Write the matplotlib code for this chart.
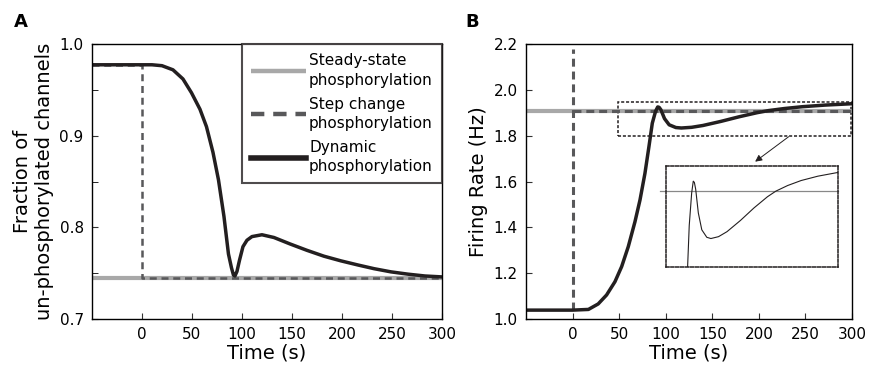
import matplotlib.pyplot as plt
from matplotlib.patches import Rectangle
from matplotlib.ticker import MultipleLocator

# ---- panel A data ----
t_a = [-50, 0, 10, 20, 31, 41, 49.5, 58, 64.5, 71, 76.5, 82, 86.5, 89.5,
       91.5, 93, 95, 97.5, 101, 105, 110, 120, 132, 148, 165, 182, 199, 216,
       232, 249, 266, 283, 300]
dyn_a = [0.9775, 0.9775, 0.9775, 0.9765, 0.972, 0.962, 0.947, 0.929, 0.910,
         0.882, 0.852, 0.812, 0.771, 0.756, 0.748, 0.747, 0.752, 0.764, 0.779,
         0.786, 0.790, 0.792, 0.789, 0.782, 0.775, 0.7686, 0.7635, 0.759,
         0.755, 0.7515, 0.749, 0.747, 0.746]
steady_a = 0.745
step_pre_a, step_post_a = 0.9775, 0.745

# ---- panel B data ----
t_b = [-50, 0, 17, 27.5, 36.5, 45.5, 52.7, 59.8, 67, 72.4, 77.7, 82, 85.6,
       89.1, 91.4, 93, 94.9, 98.7, 103.7, 110.9, 116.8, 127.8, 140, 159.4,
       178.8, 198.3, 210.4, 227.4, 246.8, 271, 300]
dyn_b = [1.039, 1.039, 1.042, 1.066, 1.105, 1.163, 1.229, 1.316, 1.425, 1.52,
         1.636, 1.753, 1.855, 1.907, 1.926, 1.924, 1.913, 1.875, 1.848, 1.836,
         1.834, 1.837, 1.845, 1.863, 1.883, 1.901, 1.910, 1.919, 1.927, 1.934,
         1.940]
steady_b = 1.91
step_pre_b, step_peak_b, step_post_b = 1.039, 2.18, 1.91

c_steady = '#a8a8a8'
c_step = '#58585a'
c_dyn = '#231f20'

plt.rcParams['font.family'] = 'DejaVu Sans'
fig = plt.figure(figsize=(8.7, 3.68), dpi=100)
axA = fig.add_axes([0.1057, 0.133, 0.4023, 0.747])
axB = fig.add_axes([0.6046, 0.133, 0.3747, 0.747])

for ax in (axA, axB):
    ax.tick_params(direction='in', labelsize=11, pad=6, length=4,
                   top=False, right=False, color='#333333')
    ax.tick_params(which='minor', direction='in', length=4, top=False, right=False)
    for s in ax.spines.values():
        s.set_linewidth(1.0)
    ax.set_xlim(-50, 300)
    ax.set_xticks([0, 50, 100, 150, 200, 250, 300])
    ax.set_xlabel('Time (s)', fontsize=14, labelpad=1)

# ---- panel A ----
axA.plot([-50, 300], [steady_a, steady_a], color=c_steady, lw=3,
         label='Steady-state\nphosphorylation', solid_capstyle='butt')
axA.plot([-50, 0, 0, 300], [step_pre_a, step_pre_a, step_post_a, step_post_a],
         color=c_step, lw=1.8, ls=(0, (2.8, 1.9)),
         label='Step change\nphosphorylation')
axA.plot(t_a, dyn_a, color=c_dyn, lw=2.5, label='Dynamic\nphosphorylation')
axA.set_ylim(0.7, 1.0)
axA.yaxis.set_major_locator(MultipleLocator(0.1))
axA.yaxis.set_minor_locator(MultipleLocator(0.05))
axA.set_ylabel('Fraction of\nun-phosphorylated channels', fontsize=14, labelpad=4)
leg = axA.legend(loc='upper right', fontsize=11, frameon=True, fancybox=False,
                 borderaxespad=0, handlelength=3.6, handletextpad=0.2,
                 labelspacing=0.6, borderpad=0.6)
for txt in leg.get_texts():
    txt.set_linespacing(1.35)
leg.get_frame().set_edgecolor('#231f20')
leg.get_frame().set_linewidth(1.5)
leg_lines = leg.get_lines()
leg_lines[0].set_linewidth(3.2)
leg_lines[1].set_linewidth(3.2)
leg_lines[1].set_linestyle((0, (3, 2)))
leg_lines[2].set_linewidth(4)

fig.text(0.016, 0.965, 'A', fontsize=13, fontweight='bold', va='top')
fig.text(0.535, 0.965, 'B', fontsize=13, fontweight='bold', va='top')

# ---- panel B ----
axB.plot([-50, 300], [steady_b, steady_b], color=c_steady, lw=3,
         solid_capstyle='butt')
axB.plot([0, 0], [step_pre_b, step_peak_b], color=c_step, lw=2.2,
         ls=(0, (2.6, 1.6)))
axB.plot([0, 300], [step_post_b, step_post_b], color=c_step, lw=2.2,
         ls=(0, (2.6, 1.6)))
axB.plot(t_b, dyn_b, color=c_dyn, lw=2.5)
axB.set_ylim(1.0, 2.2)
axB.yaxis.set_major_locator(MultipleLocator(0.2))
axB.set_ylabel('Firing Rate (Hz)', fontsize=14, labelpad=4)

box_x0, box_x1 = 48.4, 299
box_y0, box_y1 = 1.80, 1.949
axB.add_patch(Rectangle((box_x0, box_y0), box_x1 - box_x0, box_y1 - box_y0,
                        fill=False, ec='#231f20', lw=1.1, ls=(0, (2, 1.2))))
axB.annotate('', xy=(196, 1.687), xytext=(232, 1.796),
             arrowprops=dict(arrowstyle='-|>', lw=0.7, color='#231f20',
                             mutation_scale=10, shrinkA=0, shrinkB=0))

# magnified view of the boxed region
ins = axB.inset_axes([100, 1.229, 185, 0.441], transform=axB.transData)
ins.plot([43, 300], [steady_b, steady_b], color='#888888', lw=0.9,
         clip_on=False)
ins.plot(t_b, dyn_b, color=c_dyn, lw=0.8)
ins.set_xlim(51.7, 300)
ins.set_ylim(1.789, 1.951)
ins.set_xticks([])
ins.set_yticks([])
ins.patch.set_alpha(0)
for s in ins.spines.values():
    s.set_linestyle((0, (2, 1.2)))
    s.set_linewidth(1.1)
    s.set_edgecolor('#231f20')

plt.savefig('out.png', dpi=100)
